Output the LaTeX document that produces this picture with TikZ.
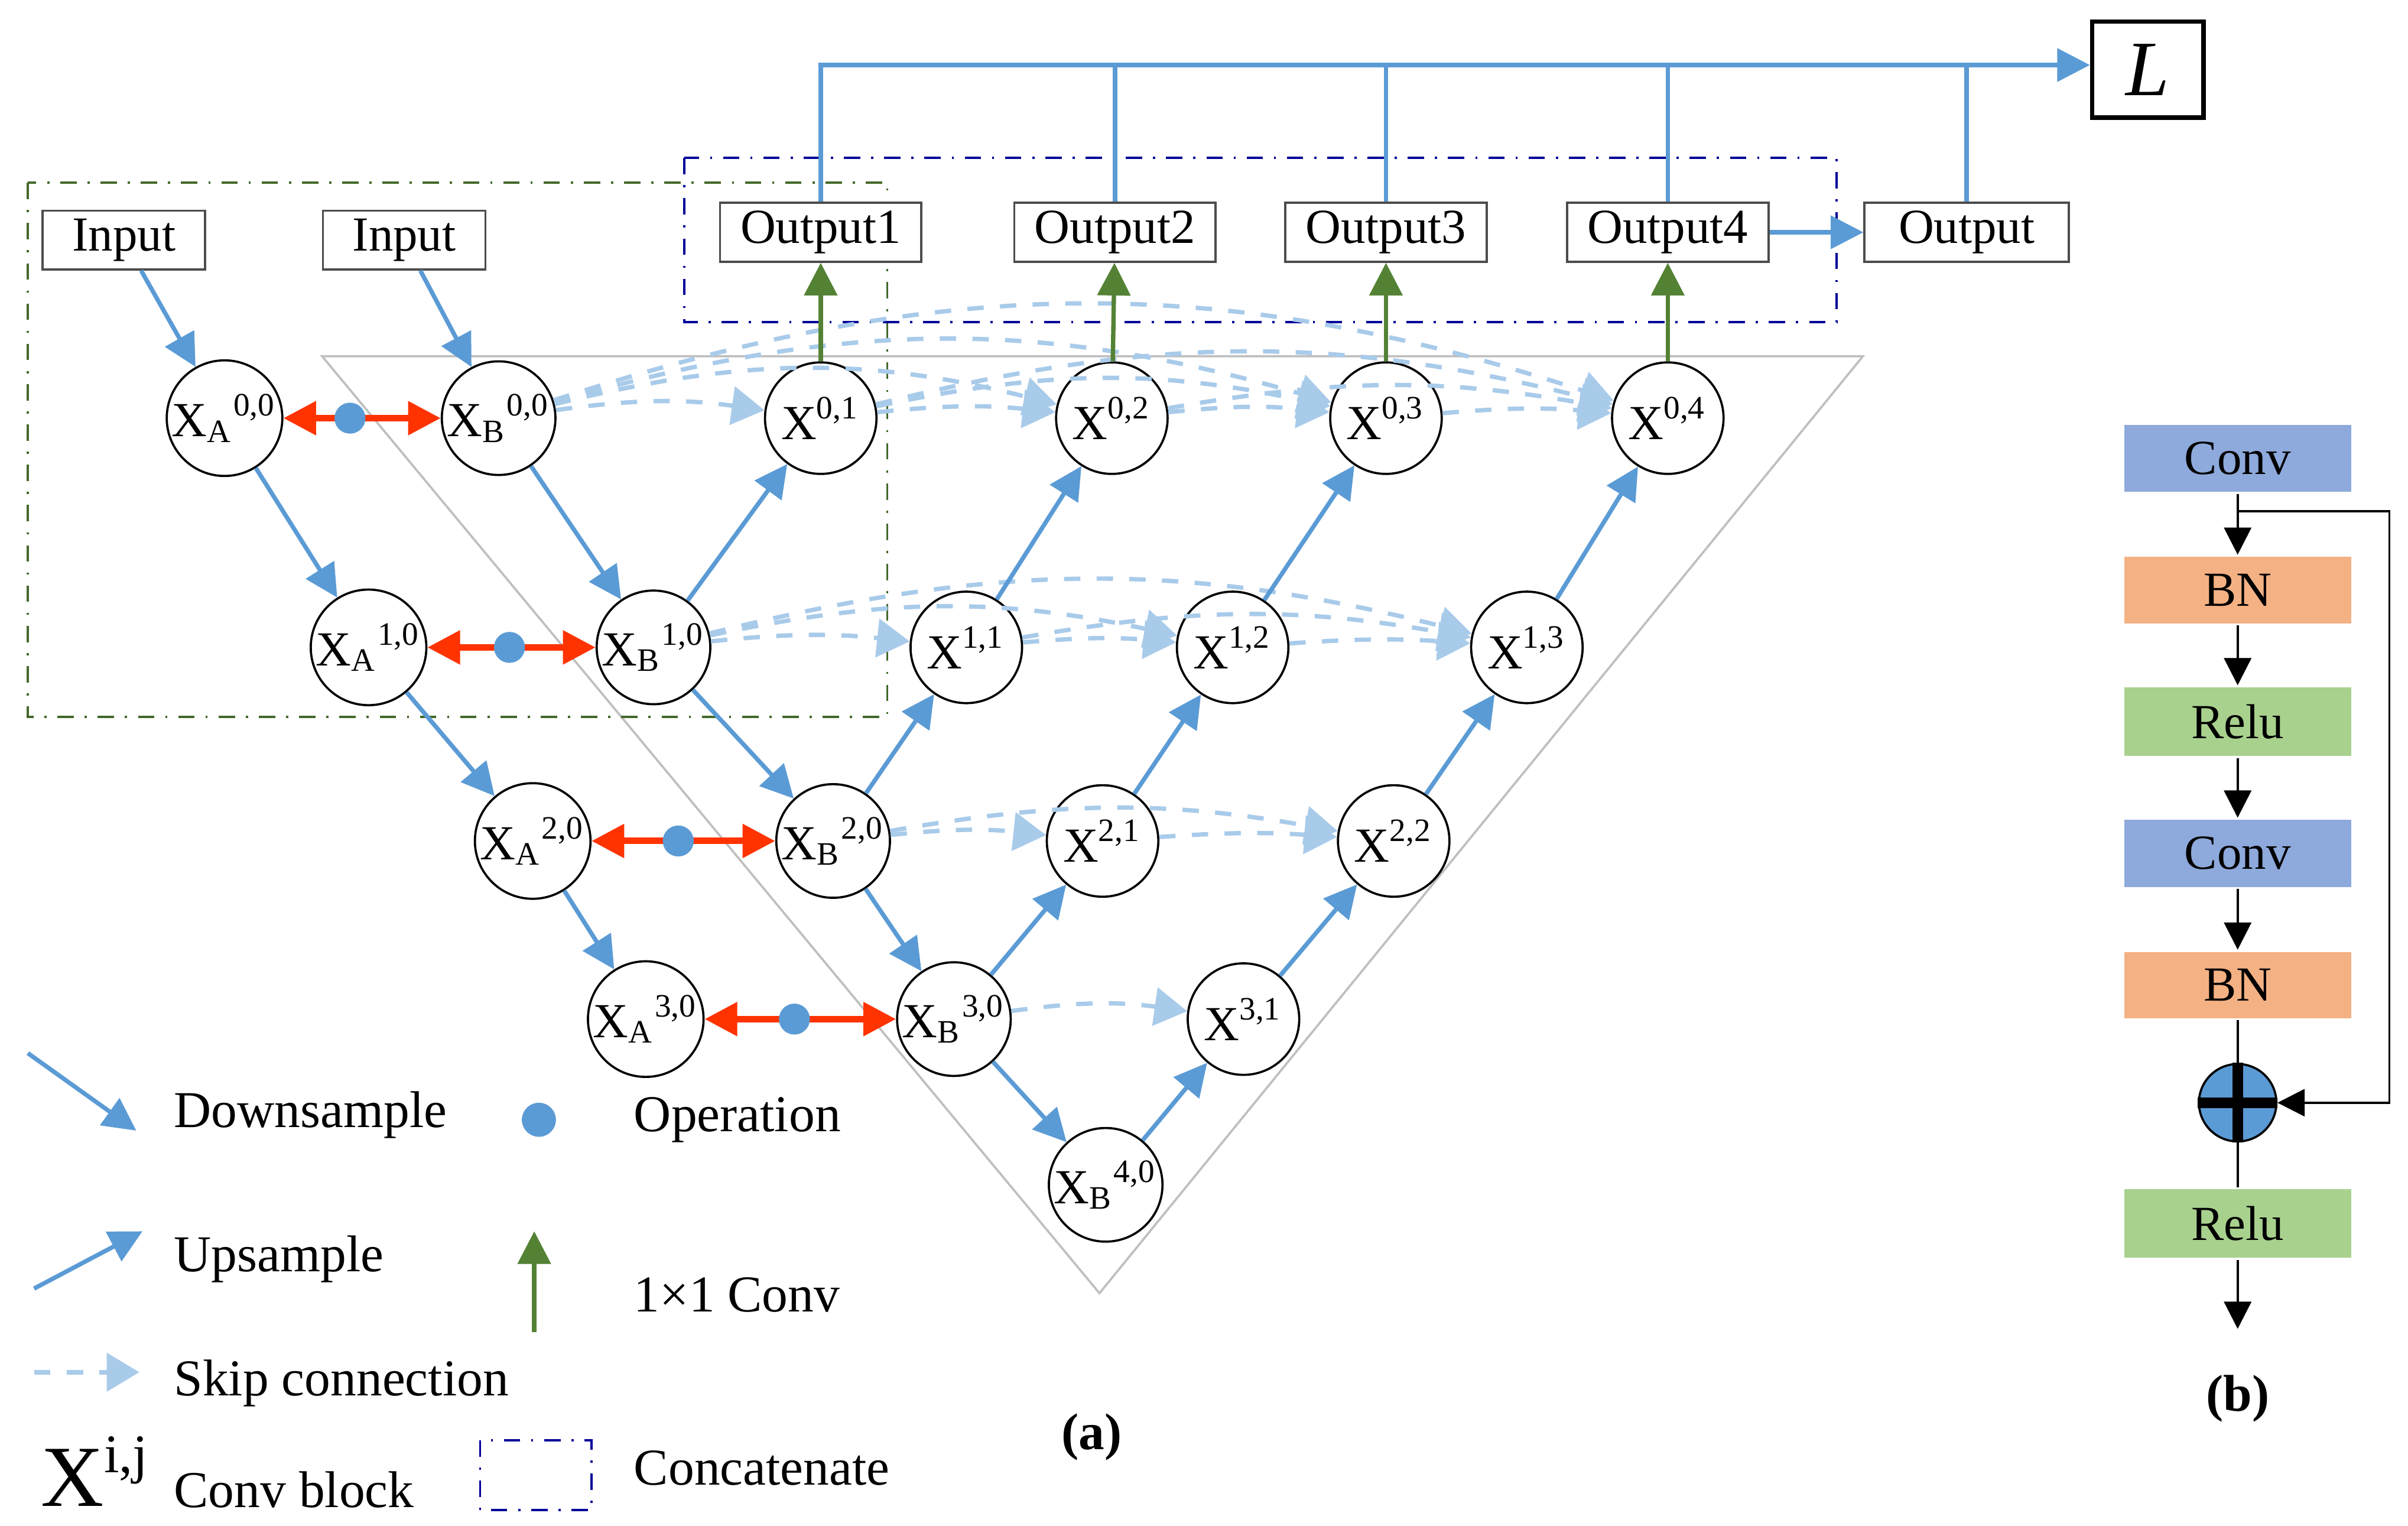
\documentclass[tikz,border=0pt]{standalone}
\usepackage{fontspec}
\setmainfont{Liberation Serif}
\usetikzlibrary{arrows.meta}
\definecolor{lblue}{HTML}{5B9BD5}
\definecolor{skipc}{HTML}{A9CBEA}
\definecolor{ored}{HTML}{FF3300}
\definecolor{dgreen}{HTML}{548235}
\definecolor{convc}{HTML}{8EA9DB}
\definecolor{bnc}{HTML}{F4B183}
\definecolor{reluc}{HTML}{A9D18E}
\tikzset{
  blk/.style={circle, draw=black, fill=white, minimum size=0.72cm, inner sep=0pt, font=\fontsize{9}{10}\selectfont},
  box/.style={draw=black!70, fill=white, minimum width=1.05cm, minimum height=0.38cm, inner sep=1pt, font=\fontsize{9}{10}\selectfont},
  down/.style={lblue, thick, -{Triangle[length=6pt,width=6pt]}},
  skip/.style={skipc, thick, dashed, -{Triangle[length=6pt,width=7pt]}},
  fuse/.style={ored, very thick, {Triangle[length=6pt,width=6pt]}-{Triangle[length=6pt,width=6pt]}},
  conv/.style={dgreen, thick, -{Triangle[length=6pt,width=6pt]}},
  op/.style={circle, fill=lblue, inner sep=0pt, minimum size=0.2cm},
  layer/.style={minimum width=1.48cm, minimum height=0.44cm, draw=white, font=\fontsize{9}{10}\selectfont},
  blk arrow/.style={black, -{Triangle[length=5pt,width=5pt]}},
  lgd/.style={anchor=west, font=\fontsize{9.5}{11}\selectfont}
}
\begin{document}
\begin{tikzpicture}[y=-1cm]
	\useasboundingbox (0,0) rectangle (15.55,9.85);
	
	% frames
	\draw[gray!50] (2.08,2.3) -- (12.03,2.3) -- (7.10,8.35) -- cycle;
	\draw[dgreen!80!black, dash dot] (0.18,1.18) rectangle (5.73,4.63);
	\draw[blue!60!black, dash dot] (4.42,1.02) rectangle (11.86,2.08);
	
	% blocks
	\node[blk] (xa00) at (1.45,2.70) {X\textsubscript{A}\textsuperscript{0,0}};
	\node[blk] (xb00) at (3.22,2.70) {X\textsubscript{B}\textsuperscript{0,0}};
	\node[blk] (x01) at (5.30,2.70) {X\textsuperscript{0,1}};
	\node[blk] (x02) at (7.18,2.70) {X\textsuperscript{0,2}};
	\node[blk] (x03) at (8.95,2.70) {X\textsuperscript{0,3}};
	\node[blk] (x04) at (10.77,2.70) {X\textsuperscript{0,4}};
	\node[blk] (xa10) at (2.38,4.18) {X\textsubscript{A}\textsuperscript{1,0}};
	\node[blk] (xb10) at (4.22,4.18) {X\textsubscript{B}\textsuperscript{1,0}};
	\node[blk] (x11) at (6.24,4.18) {X\textsuperscript{1,1}};
	\node[blk] (x12) at (7.96,4.18) {X\textsuperscript{1,2}};
	\node[blk] (x13) at (9.86,4.18) {X\textsuperscript{1,3}};
	\node[blk] (xa20) at (3.44,5.43) {X\textsubscript{A}\textsuperscript{2,0}};
	\node[blk] (xb20) at (5.38,5.43) {X\textsubscript{B}\textsuperscript{2,0}};
	\node[blk] (x21) at (7.12,5.43) {X\textsuperscript{2,1}};
	\node[blk] (x22) at (9.00,5.43) {X\textsuperscript{2,2}};
	\node[blk] (xa30) at (4.17,6.58) {X\textsubscript{A}\textsuperscript{3,0}};
	\node[blk] (xb30) at (6.16,6.58) {X\textsubscript{B}\textsuperscript{3,0}};
	\node[blk] (x31) at (8.03,6.58) {X\textsuperscript{3,1}};
	\node[blk] (xb40) at (7.14,7.65) {X\textsubscript{B}\textsuperscript{4,0}};
	
	% inputs and outputs
	\node[box] (in1) at (0.80,1.55) {Input};
	\node[box] (in2) at (2.61,1.55) {Input};
	\node[box, minimum width=1.3cm] (out1) at (5.30,1.50) {Output1};
	\node[box, minimum width=1.3cm] (out2) at (7.20,1.50) {Output2};
	\node[box, minimum width=1.3cm] (out3) at (8.95,1.50) {Output3};
	\node[box, minimum width=1.3cm] (out4) at (10.77,1.50) {Output4};
	\node[box, minimum width=1.32cm] (out) at (12.70,1.50) {Output};
	\node[draw=black, thick, minimum width=0.72cm, minimum height=0.62cm, font=\Large\itshape] (loss) at (13.87,0.45) {L};
	
	% skip connections
	\foreach \a/\b/\c in {xb00/x01/8, xb00/x02/14, xb00/x03/16, xb00/x04/18, x01/x02/6, x01/x03/12, x01/x04/14, x02/x03/6, x02/x04/10, x03/x04/5,
	  xb10/x11/6, xb10/x12/12, xb10/x13/14, x11/x12/5, x11/x13/10, x12/x13/4,
	  xb20/x21/6, xb20/x22/10, x21/x22/4, xb30/x31/8}
	  \draw[skip] (\a) to[bend left=\c] (\b);
	
	% down and up paths
	\draw[down] (in1) -- (xa00);
	\draw[down] (in2) -- (xb00);
	\foreach \a/\b in {xa00/xa10, xa10/xa20, xa20/xa30, xb00/xb10, xb10/xb20, xb20/xb30, xb30/xb40,
	  xb10/x01, xb20/x11, x11/x02, xb30/x21, x21/x12, x12/x03, xb40/x31, x31/x22, x22/x13, x13/x04}
	  \draw[down] (\a) -- (\b);
	
	% operations
	\draw[fuse] (xa00) -- (xb00);
	\draw[fuse] (xa10) -- (xb10);
	\draw[fuse] (xa20) -- (xb20);
	\draw[fuse] (xa30) -- (xb30);
	\node[op] (op0) at (2.26,2.70) {};
	\node[op] (op1) at (3.29,4.18) {};
	\node[op] (op2) at (4.38,5.43) {};
	\node[op] (op3) at (5.13,6.58) {};
	
	% 1x1 conv
	\draw[conv] (x01) -- (out1);
	\draw[conv] (x02) -- (out2);
	\draw[conv] (x03) -- (out3);
	\draw[conv] (x04) -- (out4);
	\draw[down] (out4) -- (out);
	
	% loss
	\coordinate (top) at (5.30,0.42);
	\draw[down] (out1.north) -- (top) -- (loss.west |- top);
	\draw[lblue, thick] (out2.north) -- (out2.north |- top);
	\draw[lblue, thick] (out3.north) -- (out3.north |- top);
	\draw[lblue, thick] (out4.north) -- (out4.north |- top);
	\draw[lblue, thick] (out.north) -- (out.north |- top);
	
	% legend
	\coordinate (d1) at (0.18,6.80); \coordinate (d2) at (0.88,7.30);
	\draw[down] (d1) -- (d2);
	\node[lgd] at (1.00,7.20) {Downsample};
	\node[op, minimum size=0.22cm] (lop) at (3.48,7.23) {};
	\node[lgd] at (3.97,7.23) {Operation};
	\coordinate (u1) at (0.22,8.32); \coordinate (u2) at (0.92,7.95);
	\draw[down] (u1) -- (u2);
	\node[lgd] at (1.00,8.13) {Upsample};
	\coordinate (c1) at (3.45,8.60); \coordinate (c2) at (3.45,7.95);
	\draw[conv] (c1) -- (c2);
	\node[lgd] at (3.97,8.36) {1×1 Conv};
	\coordinate (s1) at (0.22,8.86); \coordinate (s2) at (0.90,8.86);
	\draw[skip] (s1) -- (s2);
	\node[lgd] at (1.00,8.93) {Skip connection};
	\node[font=\fontsize{16}{18}\selectfont] at (0.62,9.50) {X\textsuperscript{\fontsize{10}{12}\selectfont i,j}};
	\node[lgd] at (1.00,9.62) {Conv block};
	\draw[blue!60!black, dash dot] (3.10,9.30) rectangle (3.82,9.75);
	\node[lgd] at (3.97,9.48) {Concatenate};
	\node[font=\bfseries\fontsize{9.5}{11}\selectfont] at (7.05,9.28) {(a)};
	
	% residual block
	\node[layer, fill=convc] (conv1) at (14.45,2.96) {Conv};
	\node[layer, fill=bnc] (bn1) at (14.45,3.81) {BN};
	\node[layer, fill=reluc] (relu1) at (14.45,4.66) {Relu};
	\node[layer, fill=convc] (conv2) at (14.45,5.51) {Conv};
	\node[layer, fill=bnc] (bn2) at (14.45,6.36) {BN};
	\node[circle, draw=black, fill=lblue, minimum size=0.5cm, inner sep=0pt] (add) at (14.45,7.12) {};
	\draw[black, line width=2pt] (add.north) -- (add.south) (add.west) -- (add.east);
	\node[layer, fill=reluc] (relu2) at (14.45,7.90) {Relu};
	\coordinate (end) at (14.45,8.58);
	\coordinate (sk) at (15.43,3.30);
	\draw[blk arrow] (conv1) -- (bn1);
	\draw[blk arrow] (bn1) -- (relu1);
	\draw[blk arrow] (relu1) -- (conv2);
	\draw[blk arrow] (conv2) -- (bn2);
	\draw[black] (bn2) -- (add);
	\draw[black] (add) -- (relu2);
	\draw[blk arrow] (relu2) -- (end);
	\draw[blk arrow] (conv1.south |- sk) -- (sk) |- (add.east);
	\node[font=\bfseries\fontsize{9.5}{11}\selectfont] at (14.45,9.03) {(b)};
\end{tikzpicture}
\end{document}
